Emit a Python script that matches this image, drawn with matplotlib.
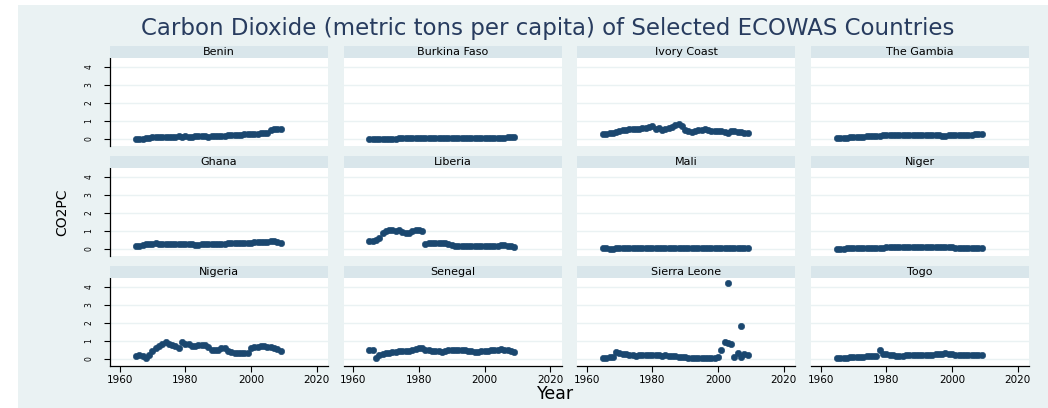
import matplotlib.pyplot as plt
from matplotlib.patches import Rectangle

# Data (CO2 metric tons per capita)
years = list(range(1965, 2010))

benin = [0.02, 0.02, 0.02, 0.03, 0.08, 0.09, 0.10, 0.12, 0.12, 0.11,
         0.09, 0.11, 0.13, 0.14, 0.13, 0.14, 0.12, 0.12, 0.15, 0.16,
         0.16, 0.14, 0.13, 0.15, 0.18, 0.18, 0.19, 0.19, 0.20, 0.21,
         0.21, 0.20, 0.21, 0.25, 0.26, 0.27, 0.29, 0.30, 0.31, 0.32,
         0.34, 0.50, 0.56, 0.57, 0.55]
burkina_faso = [0.01, 0.01, 0.01, 0.01, 0.01, 0.02, 0.02, 0.02, 0.02, 0.03,
                0.03, 0.03, 0.03, 0.04, 0.04, 0.05, 0.05, 0.05, 0.06, 0.06,
                0.06, 0.06, 0.06, 0.06, 0.06, 0.06, 0.06, 0.06, 0.06, 0.06,
                0.06, 0.07, 0.07, 0.07, 0.07, 0.07, 0.07, 0.07, 0.07, 0.08,
                0.08, 0.08, 0.09, 0.09, 0.10]
ivory_coast = [0.28, 0.30, 0.32, 0.35, 0.40, 0.46, 0.48, 0.52, 0.54, 0.55,
               0.56, 0.57, 0.60, 0.62, 0.66, 0.74, 0.55, 0.60, 0.52, 0.56,
               0.63, 0.68, 0.75, 0.80, 0.70, 0.52, 0.42, 0.40, 0.44, 0.48,
               0.47, 0.53, 0.50, 0.44, 0.44, 0.46, 0.44, 0.40, 0.32, 0.42,
               0.45, 0.40, 0.36, 0.34, 0.32]
gambia = [0.04, 0.05, 0.06, 0.07, 0.09, 0.10, 0.11, 0.12, 0.13, 0.14,
          0.16, 0.17, 0.18, 0.19, 0.20, 0.21, 0.22, 0.22, 0.22, 0.22,
          0.21, 0.21, 0.21, 0.21, 0.21, 0.20, 0.20, 0.20, 0.20, 0.20,
          0.20, 0.20, 0.19, 0.19, 0.20, 0.21, 0.21, 0.22, 0.22, 0.22,
          0.23, 0.24, 0.25, 0.27, 0.27]
ghana = [0.18, 0.19, 0.22, 0.25, 0.28, 0.30, 0.31, 0.30, 0.30, 0.30,
         0.29, 0.30, 0.30, 0.29, 0.30, 0.28, 0.27, 0.25, 0.23, 0.24,
         0.25, 0.25, 0.26, 0.26, 0.26, 0.27, 0.28, 0.30, 0.32, 0.32,
         0.33, 0.34, 0.34, 0.35, 0.35, 0.35, 0.36, 0.37, 0.37, 0.38,
         0.40, 0.42, 0.46, 0.40, 0.32]
liberia = [0.44, 0.45, 0.50, 0.62, 0.88, 0.98, 1.03, 1.05, 1.02, 1.05,
           0.95, 0.90, 0.88, 0.98, 1.05, 1.05, 1.00, 0.30, 0.33, 0.33,
           0.35, 0.34, 0.35, 0.35, 0.30, 0.22, 0.16, 0.15, 0.15, 0.15,
           0.15, 0.15, 0.15, 0.15, 0.15, 0.16, 0.16, 0.17, 0.17, 0.18,
           0.22, 0.22, 0.18, 0.15, 0.12]
mali = [0.04, 0.03, 0.01, 0.01, 0.03, 0.04, 0.04, 0.04, 0.04, 0.04,
        0.04, 0.04, 0.04, 0.04, 0.04, 0.04, 0.04, 0.04, 0.04, 0.04,
        0.04, 0.04, 0.04, 0.04, 0.04, 0.04, 0.04, 0.04, 0.04, 0.04,
        0.04, 0.04, 0.04, 0.04, 0.04, 0.04, 0.04, 0.04, 0.04, 0.04,
        0.04, 0.04, 0.04, 0.04, 0.04]
niger = [0.02, 0.02, 0.02, 0.03, 0.03, 0.03, 0.03, 0.03, 0.04, 0.04,
         0.04, 0.05, 0.05, 0.06, 0.08, 0.09, 0.10, 0.12, 0.12, 0.12,
         0.12, 0.12, 0.12, 0.12, 0.12, 0.11, 0.11, 0.11, 0.11, 0.11,
         0.10, 0.10, 0.10, 0.10, 0.10, 0.09, 0.05, 0.05, 0.05, 0.05,
         0.05, 0.05, 0.05, 0.06, 0.06]
nigeria = [0.18, 0.20, 0.17, 0.08, 0.20, 0.45, 0.60, 0.72, 0.82, 0.95,
           0.82, 0.75, 0.70, 0.62, 0.93, 0.85, 0.80, 0.72, 0.70, 0.78,
           0.78, 0.76, 0.65, 0.52, 0.48, 0.50, 0.58, 0.60, 0.45, 0.40,
           0.32, 0.32, 0.33, 0.34, 0.33, 0.60, 0.65, 0.68, 0.70, 0.70,
           0.68, 0.64, 0.60, 0.55, 0.45]
senegal = [0.50, 0.48, 0.05, 0.20, 0.30, 0.32, 0.33, 0.36, 0.38, 0.42,
           0.45, 0.43, 0.46, 0.52, 0.57, 0.60, 0.58, 0.52, 0.48, 0.45,
           0.44, 0.42, 0.40, 0.45, 0.52, 0.50, 0.48, 0.48, 0.47, 0.47,
           0.46, 0.43, 0.40, 0.40, 0.43, 0.46, 0.46, 0.48, 0.50, 0.52,
           0.54, 0.50, 0.47, 0.44, 0.36]
sierra_leone = [0.08, 0.08, 0.09, 0.10, 0.40, 0.35, 0.30, 0.25, 0.22, 0.20,
                0.18, 0.20, 0.22, 0.24, 0.22, 0.22, 0.20, 0.20, 0.18, 0.20,
                0.18, 0.15, 0.14, 0.12, 0.10, 0.10, 0.08, 0.08, 0.06, 0.08,
                0.08, 0.08, 0.08, 0.08, 0.08, 0.10, 0.52, 0.92, 0.88, 0.83,
                0.10, 0.32, 0.12, 0.25, 0.24]
sierra_leone_extra_years = [2003, 2007]
sierra_leone_extra = [4.2, 1.85]
togo = [0.05, 0.06, 0.07, 0.08, 0.09, 0.10, 0.11, 0.12, 0.13, 0.14,
        0.15, 0.16, 0.18, 0.52, 0.28, 0.25, 0.22, 0.20, 0.18, 0.18,
        0.19, 0.20, 0.20, 0.21, 0.22, 0.22, 0.23, 0.23, 0.24, 0.24,
        0.25, 0.26, 0.28, 0.31, 0.30, 0.26, 0.24, 0.22, 0.21, 0.20,
        0.20, 0.21, 0.22, 0.23, 0.23]

panels = [
    ("Benin", years, benin), ("Burkina Faso", years, burkina_faso),
    ("Ivory Coast", years, ivory_coast), ("The Gambia", years, gambia),
    ("Ghana", years, ghana), ("Liberia", years, liberia),
    ("Mali", years, mali), ("Niger", years, niger),
    ("Nigeria", years, nigeria), ("Senegal", years, senegal),
    ("Sierra Leone", years + sierra_leone_extra_years, sierra_leone + sierra_leone_extra),
    ("Togo", years, togo),
]

W, H = 1048, 408
BG = "#eaf2f3"
STRIP = "#d9e6eb"
NAVY = "#1a476f"

fig = plt.figure(figsize=(W / 100, H / 100), dpi=100, facecolor="white")
fig.patches.append(Rectangle((18 / W, 0), 1, 1 - 5 / H, transform=fig.transFigure,
                             facecolor=BG, edgecolor="none", zorder=-10))

col_left = [110, 343.5, 577, 811]
col_w = 218
row_top = [58, 168, 278]
plot_h = 88
strip_h = 12.5

for i, (name, xs, ys) in enumerate(panels):
    r, c = divmod(i, 4)
    left, top = col_left[c], row_top[r]
    ax = fig.add_axes([left / W, 1 - (top + plot_h) / H, col_w / W, plot_h / H])
    ax.set_facecolor("white")
    ax.plot(xs, ys, "o", color=NAVY, ms=4.6, mec=NAVY, mew=0.4)
    ax.set_xlim(1957.1, 2023.4)
    ax.set_ylim(-0.39, 4.48)
    ax.set_yticks([0, 1, 2, 3, 4])
    ax.set_xticks([1960, 1980, 2000, 2020])
    ax.yaxis.grid(True, color=BG, lw=1)
    ax.set_axisbelow(True)
    for s in ax.spines.values():
        s.set_visible(False)
    if c == 0:
        ax.spines["left"].set_visible(True)
        ax.spines["left"].set_linewidth(0.9)
        ax.tick_params(axis="y", length=4, width=0.8, pad=8, labelsize=5.5, labelrotation=90)
        for t in ax.get_yticklabels():
            t.set_va("center")
    else:
        ax.tick_params(axis="y", left=False, labelleft=False)
    if r == 2:
        ax.spines["bottom"].set_visible(True)
        ax.spines["bottom"].set_linewidth(0.9)
        ax.tick_params(axis="x", length=4, width=0.8, pad=2.5, labelsize=7.5)
    else:
        ax.tick_params(axis="x", bottom=False, labelbottom=False)

    sax = fig.add_axes([left / W, 1 - top / H, col_w / W, strip_h / H])
    sax.set_facecolor(STRIP)
    sax.set_xticks([])
    sax.set_yticks([])
    for s in sax.spines.values():
        s.set_visible(False)
    sax.text(0.5, 0.5, name, ha="center", va="center", fontsize=8, transform=sax.transAxes)

fig.text(548 / W, 1 - 29 / H, "Carbon Dioxide (metric tons per capita) of Selected ECOWAS Countries",
         ha="center", va="center", fontsize=16.5, color="#283c5f")
fig.text(556 / W, 1 - 385 / H, "Year", ha="center", va="top", fontsize=12.5)
fig.text(62 / W, 1 - 212 / H, "CO2PC", ha="center", va="center", fontsize=10, rotation=90)

plt.savefig("out.png", dpi=100)
